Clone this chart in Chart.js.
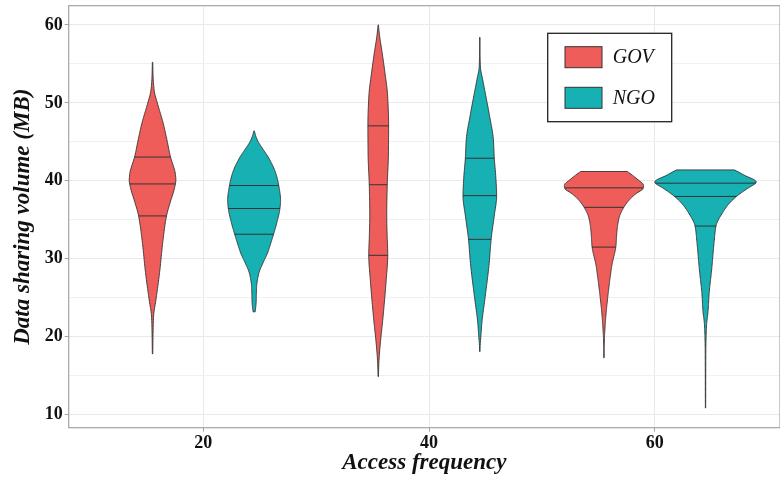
<!DOCTYPE html>
<html>
<head>
<meta charset="utf-8">
<title>Data sharing volume by access frequency</title>
<script src="https://cdn.jsdelivr.net/npm/chart.js@4.4.1/dist/chart.umd.min.js"></script>
<style>
  body { margin: 0; background: #fff; }
  canvas { display: block; }
</style>
</head>
<body>
<canvas id="myChart" width="780" height="477"></canvas>
<script>
// groups and x categories
const groups = ["GOV", "NGO"]
const frequencies = [20, 40, 60]

// violin profiles: y = data sharing volume (MB), d = relative density
const gov20Y = [17.8, 20.5, 22.6, 24.7, 28.2, 32.4, 35.5, 37.5, 39.0, 40.1, 41.0, 41.9, 43.05, 45.2, 47.3, 49.9, 51.6, 53.5, 55.2]
const gov20D = [0.004, 0.01, 0.02, 0.066, 0.138, 0.206, 0.275, 0.36, 0.43, 0.459, 0.447, 0.41, 0.354, 0.285, 0.213, 0.098, 0.032, 0.01, 0.004]
const gov40Y = [14.9, 16.8, 18.5, 22.8, 27.1, 30.5, 33.0, 35.6, 39.5, 43.3, 47.1, 50.95, 53.9, 56.9, 58.4, 60.0]
const gov40D = [0.003, 0.013, 0.032, 0.098, 0.154, 0.187, 0.175, 0.167, 0.177, 0.2, 0.204, 0.184, 0.131, 0.066, 0.03, 0.003]
const gov60Y = [17.3, 19.5, 21.1, 22.8, 24.9, 27.06, 29.2, 31.6, 33.5, 35.2, 36.6, 37.7, 38.4, 39.0, 39.4, 40.3, 41.2]
const gov60D = [0.003, 0.008, 0.02, 0.039, 0.072, 0.111, 0.157, 0.235, 0.255, 0.295, 0.39, 0.52, 0.64, 0.77, 0.78, 0.64, 0.46]

const ngo20Y = [23.2, 24.3, 26.4, 28.1, 29.4, 30.7, 32.0, 33.15, 34.5, 36.45, 37.5, 39.4, 40.9, 43.05, 44.0, 45.2, 45.8, 46.4]
const ngo20D = [0.02, 0.039, 0.049, 0.091, 0.17, 0.262, 0.328, 0.383, 0.442, 0.508, 0.521, 0.485, 0.43, 0.278, 0.18, 0.066, 0.03, 0.005]
const ngo40Y = [18.1, 19.0, 20.0, 21.7, 25.1, 29.4, 32.5, 35.4, 38.1, 40.5, 42.9, 45.2, 48.6, 52.9, 54.6, 56.5, 58.4]
const ngo40D = [0.003, 0.008, 0.02, 0.039, 0.105, 0.184, 0.223, 0.282, 0.331, 0.315, 0.285, 0.268, 0.184, 0.059, 0.012, 0.004, 0.003]
const ngo60Y = [10.86, 14.0, 18.0, 21.5, 23.2, 25.6, 28.6, 32.0, 34.2, 36.0, 36.9, 38.0, 39.0, 39.86, 40.7, 41.4]
const ngo60D = [0.003, 0.004, 0.006, 0.02, 0.049, 0.072, 0.121, 0.167, 0.206, 0.344, 0.44, 0.61, 0.82, 1.0, 0.77, 0.57]

// quartiles (25%, 50%, 75%) per violin
const govQuartiles = [[35.5, 39.6, 43.05], [30.45, 39.5, 47.05], [31.5, 36.6, 39.1]]
const ngoQuartiles = [[33.15, 36.45, 39.4], [32.5, 38.1, 42.9], [34.2, 38.0, 39.7]]

const violinProfiles = [
  [[gov20Y, gov20D], [gov40Y, gov40D], [gov60Y, gov60D]],
  [[ngo20Y, ngo20D], [ngo40Y, ngo40D], [ngo60Y, ngo60D]],
]
const quartiles = [govQuartiles, ngoQuartiles]

// look
const groupColors = ["#EF5D5A", "#17B1B4"]
const outline = "#333333"
const dodge = 4.5
const violinWidth = 9
const serif = "'Liberation Serif', 'Times New Roman', serif"

// monotone cubic interpolation for a smooth outline
function monotone(xs, ys) {
  const n = xs.length
  const dx = [], s = [], m = []
  for (let i = 0; i < n - 1; i++) {
    dx[i] = xs[i + 1] - xs[i]
    s[i] = (ys[i + 1] - ys[i]) / dx[i]
  }
  m[0] = s[0]
  m[n - 1] = s[n - 2]
  for (let i = 1; i < n - 1; i++) {
    if (s[i - 1] * s[i] <= 0) m[i] = 0
    else m[i] = (3 * (dx[i - 1] + dx[i])) / ((2 * dx[i] + dx[i - 1]) / s[i - 1] + (dx[i] + 2 * dx[i - 1]) / s[i])
  }
  return function (x) {
    let i = 0
    while (i < n - 2 && x > xs[i + 1]) i++
    const h = dx[i]
    const t = (x - xs[i]) / h
    const t2 = t * t, t3 = t2 * t
    return (2 * t3 - 3 * t2 + 1) * ys[i] + (t3 - 2 * t2 + t) * h * m[i] +
      (-2 * t3 + 3 * t2) * ys[i + 1] + (t3 - t2) * h * m[i + 1]
  }
}

const violinPlugin = {
  id: "violins",
  beforeDatasetsDraw(chart) {
    const { ctx, chartArea } = chart
    const x = chart.scales.x
    const y = chart.scales.y
    ctx.save()
    ctx.beginPath()
    ctx.rect(chartArea.left, chartArea.top, chartArea.right - chartArea.left, chartArea.bottom - chartArea.top)
    ctx.clip()
    ctx.lineJoin = "round"
    violinProfiles.forEach((profiles, gi) => {
      const shift = gi === 0 ? -dodge : dodge
      profiles.forEach((p, i) => {
        const ys = p[0]
        const f = monotone(ys, p[1])
        const cx = frequencies[i] + shift
        const lo = ys[0]
        const hi = ys[ys.length - 1]
        const steps = 200
        const left = []
        const right = []
        for (let k = 0; k <= steps; k++) {
          const v = lo + ((hi - lo) * k) / steps
          const hw = (Math.max(f(v), 0) * violinWidth) / 2
          left.push([x.getPixelForValue(cx - hw), y.getPixelForValue(v)])
          right.push([x.getPixelForValue(cx + hw), y.getPixelForValue(v)])
        }
        ctx.beginPath()
        ctx.moveTo(left[0][0], left[0][1])
        for (let k = 1; k < left.length; k++) ctx.lineTo(left[k][0], left[k][1])
        for (let k = right.length - 1; k >= 0; k--) ctx.lineTo(right[k][0], right[k][1])
        ctx.closePath()
        ctx.fillStyle = groupColors[gi]
        ctx.fill()
        ctx.strokeStyle = outline
        ctx.lineWidth = 0.9
        ctx.stroke()
        // quartile lines
        quartiles[gi][i].forEach((q) => {
          const hw = (f(q) * violinWidth) / 2
          ctx.beginPath()
          ctx.moveTo(x.getPixelForValue(cx - hw), y.getPixelForValue(q))
          ctx.lineTo(x.getPixelForValue(cx + hw), y.getPixelForValue(q))
          ctx.lineWidth = 1
          ctx.stroke()
        })
      })
    })
    ctx.restore()
  },
  afterDraw(chart) {
    const { ctx, chartArea } = chart
    ctx.save()
    // panel border
    ctx.strokeStyle = "#A3A3A3"
    ctx.lineWidth = 1.2
    ctx.strokeRect(chartArea.left, chartArea.top, chartArea.right - chartArea.left, chartArea.bottom - chartArea.top)

    // legend box
    const bx = chartArea.left + 479
    const by = chartArea.top + 27.6
    ctx.fillStyle = "#fff"
    ctx.fillRect(bx, by, 124, 88.4)
    ctx.strokeStyle = "#222"
    ctx.lineWidth = 1.3
    ctx.strokeRect(bx, by, 124, 88.4)
    ctx.font = "italic 20px " + serif
    ctx.textBaseline = "middle"
    ctx.textAlign = "left"
    groups.forEach((g, gi) => {
      const ky = by + 13.4 + gi * 40.6
      ctx.fillStyle = groupColors[gi]
      ctx.fillRect(bx + 17.3, ky, 37, 21)
      ctx.strokeStyle = outline
      ctx.lineWidth = 1
      ctx.strokeRect(bx + 17.3, ky, 37, 21)
      ctx.fillStyle = "#111"
      ctx.fillText(g, bx + 65, ky + 11)
    })
    ctx.restore()
  },
}

const datasets = groups.map((g, gi) => ({
  label: g,
  data: frequencies.map((f, i) => ({ x: f + (gi === 0 ? -dodge : dodge), y: quartiles[gi][i][1] })),
  backgroundColor: groupColors[gi],
  borderColor: outline,
  pointRadius: 0,
  showLine: false,
}))

const majorGrid = "#E9E9E9"
const minorGrid = "#F1F1F1"
const tickFont = { family: serif, size: 18, weight: "bold" }
const titleFont = { family: serif, size: 23, weight: "bold", style: "italic" }

new Chart(document.querySelector("#myChart"), {
  type: "scatter",
  data: { datasets: datasets },
  plugins: [violinPlugin],
  options: {
    responsive: false,
    animation: false,
    events: [],
    layout: { padding: { top: 5.7, right: 0, bottom: 0, left: 0 } },
    plugins: {
      legend: { display: false },
      tooltip: { enabled: false },
    },
    scales: {
      x: {
        type: "linear",
        min: 8.07,
        max: 71.1,
        border: { display: false },
        grid: { color: majorGrid, tickColor: "#A3A3A3", tickLength: 4 },
        ticks: { stepSize: 20, includeBounds: false, color: "#111", font: tickFont, padding: 1, maxRotation: 0 },
        title: { display: true, text: "Access frequency", color: "#111", font: titleFont, padding: { top: 0, bottom: 0.6 } },
        afterFit: (scale) => {
          scale.height = 49.3
          scale.paddingLeft = 0
          scale.paddingRight = 0
        },
      },
      y: {
        type: "linear",
        min: 8.34,
        max: 62.46,
        border: { display: false },
        grid: {
          color: (c) => (c.tick && c.tick.value % 10 === 0 ? majorGrid : minorGrid),
          tickColor: (c) => (c.tick && c.tick.value % 10 === 0 ? "#A3A3A3" : "rgba(0,0,0,0)"),
          tickLength: 4,
        },
        ticks: {
          stepSize: 5,
          includeBounds: false,
          autoSkip: false,
          color: "#111",
          font: tickFont,
          padding: 2,
          callback: (v) => (v % 10 === 0 ? v : ""),
        },
        title: { display: true, text: "Data sharing volume (MB)", color: "#111", font: titleFont, padding: { top: 8.8, bottom: 0 } },
        afterFit: (scale) => {
          scale.width = 68.7
          scale.paddingTop = 0
          scale.paddingBottom = 0
        },
      },
    },
  },
})
</script>
</body>
</html>
